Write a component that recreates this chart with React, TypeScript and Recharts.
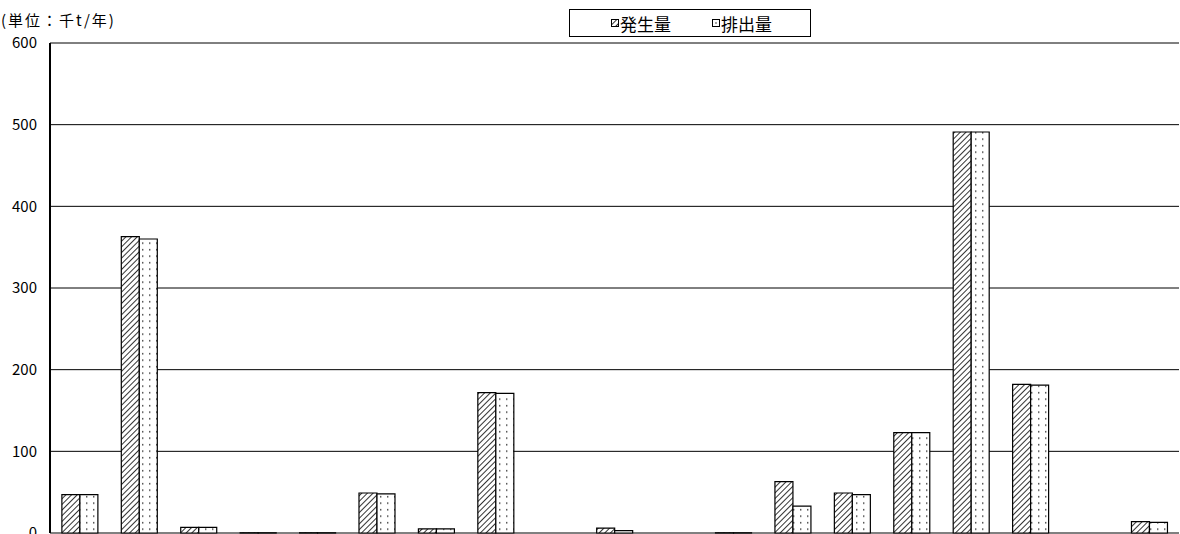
import React from 'react';
import { BarChart, Bar, XAxis, YAxis, CartesianGrid } from 'recharts';

// 業種区分（19区分）
const categories = [
  'c01', 'c02', 'c03', 'c04', 'c05', 'c06', 'c07', 'c08', 'c09', 'c10',
  'c11', 'c12', 'c13', 'c14', 'c15', 'c16', 'c17', 'c18', 'c19',
];
// 発生量（千t/年）
const generated = [47, 363, 7, 0.3, 0.3, 49, 5, 172, 0, 6, 0, 0.3, 63, 49, 123, 491, 182, 0, 14];
// 排出量（千t/年）
const discharged = [47, 360, 7, 0.3, 0.3, 48, 5, 171, 0, 3, 0, 0.3, 33, 47, 123, 491, 181, 0, 13];
// 縦軸目盛
const yTicks = [0, 100, 200, 300, 400, 500, 600];

const seriesNames = { gen: '発生量', dis: '排出量' };
const unitLabel = '(単位：千t/年)';

const data = categories.map((c, i) => ({ name: c, gen: generated[i], dis: discharged[i] }));

const FONT = '"Noto Sans CJK JP", "Noto Sans", sans-serif';

const Patterns = () => (
  <svg width={0} height={0} style={{ position: 'absolute' }}>
    <defs>
      <pattern id="hatch" width={4} height={4} patternUnits="userSpaceOnUse" patternTransform="rotate(45)">
        <rect width={4} height={4} fill="#fff" />
        <line x1={0} y1={0} x2={0} y2={4} stroke="#000" strokeWidth={1.6} />
      </pattern>
      <pattern id="dots" width={7} height={6.5} patternUnits="userSpaceOnUse">
        <rect width={7} height={6.5} fill="#fff" />
        <rect x={2} y={2} width={1.4} height={1.4} fill="#333" />
      </pattern>
    </defs>
  </svg>
);

const LegendBox = () => (
  <div
    style={{
      position: 'absolute',
      left: 569,
      top: 9,
      width: 242,
      height: 28,
      border: '1px solid #000',
      background: '#fff',
      boxSizing: 'border-box',
      display: 'flex',
      alignItems: 'center',
      fontFamily: FONT,
      fontSize: 17,
      color: '#000',
    }}
  >
    <span style={{ display: 'inline-flex', alignItems: 'center', marginLeft: 41 }}>
      <svg width={8} height={8} style={{ marginRight: 1 }}>
        <rect x={0.5} y={0.5} width={7} height={7} fill="url(#hatch)" stroke="#000" strokeWidth={1} />
      </svg>
      {seriesNames.gen}
    </span>
    <span style={{ display: 'inline-flex', alignItems: 'center', marginLeft: 41 }}>
      <svg width={8} height={8} style={{ marginRight: 1 }}>
        <rect x={0.5} y={0.5} width={7} height={7} fill="#fff" stroke="#000" strokeWidth={1} />
        <rect x={3.4} y={3.4} width={1.2} height={1.2} fill="#000" />
      </svg>
      {seriesNames.dis}
    </span>
  </div>
);

export default function App() {
  return (
    <div style={{ position: 'absolute', left: 0, top: 0, width: 1180, height: 534, overflow: 'hidden', background: '#fff' }}>
      <Patterns />
      <div
        style={{
          position: 'absolute',
          left: 1,
          top: 9,
          fontFamily: FONT,
          fontSize: 15,
          letterSpacing: 2,
          color: '#000',
          whiteSpace: 'nowrap',
        }}
      >
        {unitLabel}
      </div>
      <BarChart
        width={1180}
        height={534}
        data={data}
        margin={{ top: 43, right: 1, bottom: 1, left: 0 }}
        barCategoryGap="20%"
        barGap={0}
      >
        <CartesianGrid horizontal vertical={false} stroke="#000" strokeWidth={1} strokeOpacity={1} />
        <XAxis dataKey="name" tick={false} tickLine={false} height={0} axisLine={{ stroke: '#000', strokeWidth: 1.5 }} />
        <YAxis
          width={50}
          domain={[0, 600]}
          ticks={yTicks}
          interval={0}
          tickLine={false}
          tickSize={6}
          tickMargin={7}
          axisLine={{ stroke: '#000', strokeWidth: 2 }}
          tick={{ fill: '#000', fontSize: 15, fontFamily: FONT }}
        />
        <Bar dataKey="gen" name={seriesNames.gen} fill="url(#hatch)" stroke="#000" strokeWidth={1.2} isAnimationActive={false} />
        <Bar dataKey="dis" name={seriesNames.dis} fill="url(#dots)" stroke="#000" strokeWidth={1.2} isAnimationActive={false} />
      </BarChart>
      <LegendBox />
    </div>
  );
}
